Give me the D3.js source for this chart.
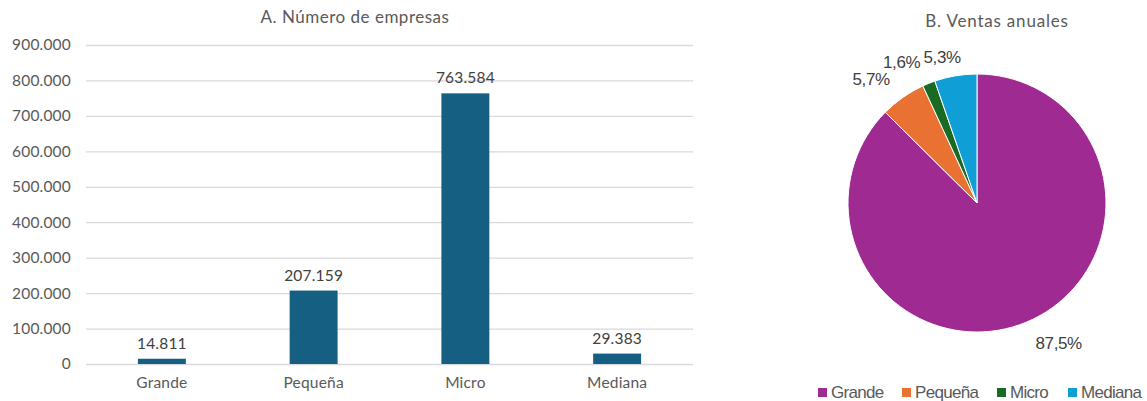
<!DOCTYPE html>
<html>
<head>
<meta charset="utf-8">
<script src="https://cdn.jsdelivr.net/npm/d3@7"></script>
<style>
  body { margin: 0; background: #fff; }
  svg { display: block; }
</style>
</head>
<body>
<svg width="1147" height="401"></svg>
<script>
// datos del gráfico A
const categorias = ["Grande", "Pequeña", "Micro", "Mediana"];
const empresas = [14811, 207159, 763584, 29383];
const ticksY = [0, 100000, 200000, 300000, 400000, 500000, 600000, 700000, 800000, 900000];

// datos del gráfico B
const segmentos = ["Grande", "Pequeña", "Micro", "Mediana"];
const ventas = [87.5, 5.7, 1.6, 5.3];
const coloresPie = ["#9e2a92", "#e97132", "#196b24", "#0f9ed5"];

const svg = d3.select("svg");
const fmt = d3.formatLocale({ decimal: ",", thousands: ".", grouping: [3], currency: ["", ""] }).format(",d");

// ---- barras ----
const area = { left: 86, right: 693, top: 45, bottom: 364 };

const scX = d3.scaleBand()
    .domain(categorias)
    .range([area.left, area.right])
    .paddingInner(0.684)
    .paddingOuter(0.342);

const scY = d3.scaleLinear()
    .domain([0, 900000])
    .range([area.bottom, area.top]);

svg.append("text")
    .attr("x", 355).attr("y", 23)
    .attr("text-anchor", "middle")
    .style("font", "17px Lato, sans-serif")
    .style("letter-spacing", "0.5px")
    .style("fill", "#595959")
    .text("A. Número de empresas");

const axisY = d3.axisLeft(scY)
    .tickValues(ticksY)
    .tickSize(-(area.right - area.left))
    .tickPadding(15)
    .tickFormat(d => fmt(d));

const gY = svg.append("g")
    .attr("transform", `translate(${area.left},0)`)
    .call(axisY);
gY.select(".domain").remove();
gY.selectAll("line").attr("stroke", "#d9d9d9").attr("stroke-width", 1.3);
gY.selectAll("text")
    .style("font", "15.5px Lato, sans-serif")
    .style("letter-spacing", "0.2px")
    .style("fill", "#595959");

svg.selectAll(".bar")
    .data(empresas)
    .enter()
    .append("rect")
    .attr("class", "bar")
    .attr("x", (d, i) => scX(categorias[i]))
    .attr("y", d => scY(d))
    .attr("width", scX.bandwidth())
    .attr("height", d => scY(0) - scY(d))
    .style("fill", "#156082");

svg.selectAll(".val")
    .data(empresas)
    .enter()
    .append("text")
    .attr("class", "val")
    .attr("x", (d, i) => scX(categorias[i]) + scX.bandwidth() / 2)
    .attr("y", d => scY(d) - 10)
    .attr("text-anchor", "middle")
    .style("font", "15.5px Lato, sans-serif")
    .style("letter-spacing", "0.2px")
    .style("fill", "#404040")
    .text(d => fmt(d));

const axisX = d3.axisBottom(scX).tickSize(0).tickPadding(13);
const gX = svg.append("g")
    .attr("transform", `translate(0,${area.bottom})`)
    .call(axisX);
gX.select(".domain").remove();
gX.selectAll("text")
    .style("font", "15.5px Lato, sans-serif")
    .style("letter-spacing", "0.2px")
    .style("fill", "#595959");

// ---- torta ----
const cx = 977, cy = 203, r = 129;

svg.append("text")
    .attr("x", 997).attr("y", 27)
    .attr("text-anchor", "middle")
    .style("font", "17px Lato, sans-serif")
    .style("letter-spacing", "0.8px")
    .style("fill", "#595959")
    .text("B. Ventas anuales");

const pie = d3.pie().sort(null).value(d => d);
const arcs = pie(ventas);
const arc = d3.arc().innerRadius(0).outerRadius(r);
const arcLabel = d3.arc().innerRadius(152).outerRadius(152);

const gPie = svg.append("g").attr("transform", `translate(${cx},${cy})`);

gPie.selectAll("path")
    .data(arcs)
    .enter()
    .append("path")
    .attr("d", arc)
    .style("fill", (d, i) => coloresPie[i])
    .style("stroke", "#fff")
    .style("stroke-width", 1);

const labels = gPie.selectAll(".lbl")
    .data(arcs)
    .enter()
    .append("text")
    .attr("class", "lbl")
    .attr("x", d => arcLabel.centroid(d)[0])
    .attr("y", d => arcLabel.centroid(d)[1])
    .attr("dy", "0.35em")
    .attr("text-anchor", d => arcLabel.centroid(d)[0] > 0 ? "start" : "end")
    .style("font", "17px 'Liberation Sans', Arial, sans-serif")
    .style("letter-spacing", "-0.4px")
    .style("fill", "#404040")
    .text(d => String(d.data).replace(".", ",") + "%");

// evitar que las etiquetas se encimen: empujar a la derecha si choca con la anterior
// (caja ajustada al alto real de los glifos)
const tight = b => ({ x: b.x, y: b.y + 4, width: b.width, height: b.height - 8 });
let prev = null;
labels.each(function() {
    const b = tight(this.getBBox());
    if (prev) {
        const overlapX = prev.x + prev.width - b.x;
        const overlapY = Math.min(prev.y + prev.height, b.y + b.height) - Math.max(prev.y, b.y);
        if (overlapX > 0 && overlapY > 0 && b.x > prev.x) {
            const shift = overlapX + 3;
            d3.select(this).attr("x", +d3.select(this).attr("x") + shift)
                .attr("y", +d3.select(this).attr("y") + 4);
        }
    }
    prev = tight(this.getBBox());
});

// leyenda
const legX = [818, 902, 997, 1068];
const leg = svg.selectAll(".leg")
    .data(segmentos)
    .enter()
    .append("g")
    .attr("class", "leg")
    .attr("transform", (d, i) => `translate(${legX[i]},388)`);

leg.append("rect")
    .attr("width", 9).attr("height", 9)
    .attr("y", 0)
    .style("fill", (d, i) => coloresPie[i]);

leg.append("text")
    .attr("x", 13).attr("y", 4.5)
    .attr("dy", "0.35em")
    .style("font", "17px 'Liberation Sans', Arial, sans-serif")
    .style("letter-spacing", "-0.7px")
    .style("fill", "#595959")
    .text(d => d);
</script>
</body>
</html>
